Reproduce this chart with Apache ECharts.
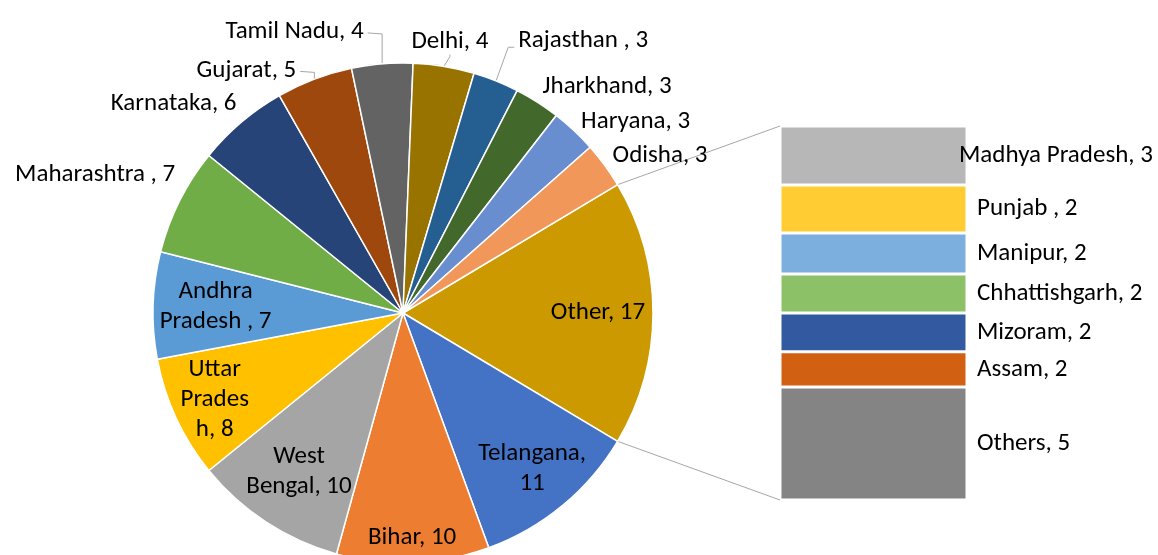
<!DOCTYPE html>
<html>
<head>
<meta charset="utf-8">
<script src="https://cdn.jsdelivr.net/npm/echarts@6/dist/echarts.min.js"></script>
<style>
html, body { margin: 0; padding: 0; background: #fff; }
#main { width: 1158px; height: 555px; }
</style>
</head>
<body>
<div id="main"></div>
<script>
// main pie, clockwise after the "Other" slice
var pie_names = ['Telangana', 'Bihar', 'West Bengal', 'Uttar Pradesh', 'Andhra Pradesh ', 'Maharashtra ', 'Karnataka',
	'Gujarat', 'Tamil Nadu', 'Delhi', 'Rajasthan ', 'Jharkhand', 'Haryana', 'Odisha'];
var pie_values = [11, 10, 10, 8, 7, 7, 6, 5, 4, 4, 3, 3, 3, 3];
var pie_colors = ['#4472C4', '#ED7D31', '#A5A5A5', '#FFC000', '#5B9BD5', '#70AD47', '#264478',
	'#9E480E', '#636363', '#997300', '#255E91', '#43682B', '#698ED0', '#F1975A'];
var other_name = 'Other';
var other_color = '#CC9A00';

// secondary bar (split of "Other"), top to bottom
var bar_names = ['Madhya Pradesh', 'Punjab ', 'Manipur', 'Chhattishgarh', 'Mizoram', 'Assam', 'Others'];
var bar_values = [2.74, 2.23, 1.91, 1.81, 1.81, 1.63, 5.26];
var bar_colors = ['#B7B7B7', '#FFCD33', '#7CAFDD', '#8CC168', '#335AA1', '#D26012', '#848484'];

var font = 'Carlito, Lato, sans-serif';
var font_size = 25;
var pie_cx = 403, pie_cy = 313, pie_r = 250;

/**
 * label styling per slice: rf = inside at that radius fraction,
 * otherwise outside with nudge / leader line
 */
var label_style = {
	'Other': { rf: 0.78 },
	'Telangana': { rf: 0.81, sep: ',\n' },
	'Bihar': { rf: 0.9 },
	'West Bengal': { rf: 0.76, text: 'West\nBengal' },
	'Uttar Pradesh': { rf: 0.83, text: 'Uttar\nPrades\nh' },
	'Andhra Pradesh ': { rf: 0.75, text: 'Andhra\nPradesh ' },
	'Maharashtra ': { dx: 1, dy: -18 },
	'Karnataka': { dx: -1, dy: -5 },
	'Gujarat': { dx: -16, dy: 8, line: true },
	'Tamil Nadu': { dx: -18, dy: -14, align: 'right', line: true },
	'Delhi': { dx: 5, dy: -7, line: true },
	'Rajasthan ': { dx: 20, dy: -23, line: true },
	'Jharkhand': { dx: 2, dy: 0 },
	'Haryana': { dx: 3, dy: 4 },
	'Odisha': { dx: 3, dy: 1 }
};

var $each = function(arr, fn){ for (var i = 0; i < arr.length; i++) fn(i, arr[i]); };

var other_value = 0;
$each(bar_values, function(k, v){ other_value += v; });

var pie_data = [{ name: other_name, value: other_value, itemStyle: { color: other_color } }];
$each(pie_names, function(k, v){
	pie_data.push({ name: v, value: pie_values[k], itemStyle: { color: pie_colors[k] } });
});

var pie_total = 0;
$each(pie_data, function(k, v){ pie_total += v.value; });
var start_angle = other_value / pie_total * 180;

// middle angle of each slice (degrees, counter-clockwise from 3 o'clock)
var mid_angles = [];
var cum = 0;
$each(pie_data, function(k, v){
	mid_angles.push(start_angle - (cum + v.value / 2) / pie_total * 360);
	cum += v.value;
});

$each(pie_data, function(k, v){
	var st = label_style[v.name] || {};
	var outside = !st.rf;
	v.label = {
		position: outside ? 'outside' : 'inside',
		formatter: (st.text || v.name) + (st.sep || ', ') + Math.round(v.value)
	};
	v.labelLine = { show: !!st.line };
});

function pie_label_layout(params){
	if (params.seriesIndex !== 0) return;
	var i = params.dataIndex;
	var st = label_style[pie_data[i].name] || {};
	var m = mid_angles[i] * Math.PI / 180;
	var ux = Math.cos(m), uy = -Math.sin(m);
	if (st.rf) {
		return {
			x: pie_cx + ux * pie_r * st.rf,
			y: pie_cy + uy * pie_r * st.rf,
			align: 'center', verticalAlign: 'middle'
		};
	}
	var ax = pie_cx + ux * (pie_r + 6);
	var ay = pie_cy + uy * (pie_r + 6) + uy * 12;
	var align = st.align || (ux > 0.2 ? 'left' : (ux < -0.2 ? 'right' : 'center'));
	var x = ax + (st.dx || 0), y = ay + (st.dy || 0);
	var res = { x: x, y: y, align: align, verticalAlign: 'middle' };
	if (st.line) {
		var p0 = [pie_cx + ux * pie_r, pie_cy + uy * pie_r];
		var p2, p1;
		if (align === 'left') {
			p2 = [x - 4, y + 6];
			p1 = [x - 10, y + 6];
		} else if (align === 'right') {
			p2 = [x + 4, y + 1];
			p1 = [p0[0], y + 2];
		} else {
			p2 = [x, y + 13];
			p1 = [x, y + 15];
		}
		res.labelLinePoints = [p0, p1, p2];
	}
	return res;
}

var bar_series = [];
$each(bar_names, function(k, v){
	bar_series.push({
		name: v,
		type: 'bar',
		xAxisIndex: 0,
		yAxisIndex: 0,
		stack: 'other',
		barWidth: '100%',
		data: [bar_values[k]],
		itemStyle: { color: bar_colors[k], borderColor: '#fff', borderWidth: 1.5 },
		label: {
			show: true,
			position: 'right',
			distance: 10,
			offset: k === 0 ? [-18, 0] : [0, 0],
			color: '#000',
			fontFamily: font,
			fontSize: font_size,
			formatter: v + ', ' + Math.round(bar_values[k])
		},
		emphasis: { disabled: true }
	});
});

var myChart = echarts.init(document.getElementById('main'));
var option = {
	animation: false,
	grid: { left: 780, top: 126, width: 187, height: 374 },
	xAxis: { type: 'category', data: [''], show: false },
	yAxis: { type: 'value', inverse: true, min: 0, max: other_value, show: false },
	series: [{
		type: 'pie',
		center: [pie_cx, pie_cy],
		radius: pie_r,
		startAngle: start_angle,
		clockwise: true,
		data: pie_data,
		itemStyle: { borderColor: '#fff', borderWidth: 1.5 },
		label: {
			color: '#000',
			fontFamily: font,
			fontSize: font_size,
			lineHeight: 30,
			overflow: 'none'
		},
		labelLine: { lineStyle: { color: '#A6A6A6', width: 1 }, length: 5, length2: 5 },
		labelLayout: pie_label_layout,
		emphasis: { disabled: true }
	}].concat(bar_series)
};
myChart.setOption(option);

// connector lines from the "Other" slice edges to the bar corners
var a1 = start_angle * Math.PI / 180, a2 = -start_angle * Math.PI / 180;
var bar_top = myChart.convertToPixel({ gridIndex: 0 }, [0, 0])[1];
var bar_bottom = myChart.convertToPixel({ gridIndex: 0 }, [0, other_value])[1];
var bar_left = 780;
myChart.setOption({
	graphic: [{
		type: 'polyline',
		shape: { points: [[pie_cx + Math.cos(a1) * pie_r, pie_cy - Math.sin(a1) * pie_r], [bar_left, bar_top]] },
		style: { stroke: '#A6A6A6', lineWidth: 1, fill: null }
	}, {
		type: 'polyline',
		shape: { points: [[pie_cx + Math.cos(a2) * pie_r, pie_cy - Math.sin(a2) * pie_r], [bar_left, bar_bottom]] },
		style: { stroke: '#A6A6A6', lineWidth: 1, fill: null }
	}]
});
</script>
</body>
</html>
